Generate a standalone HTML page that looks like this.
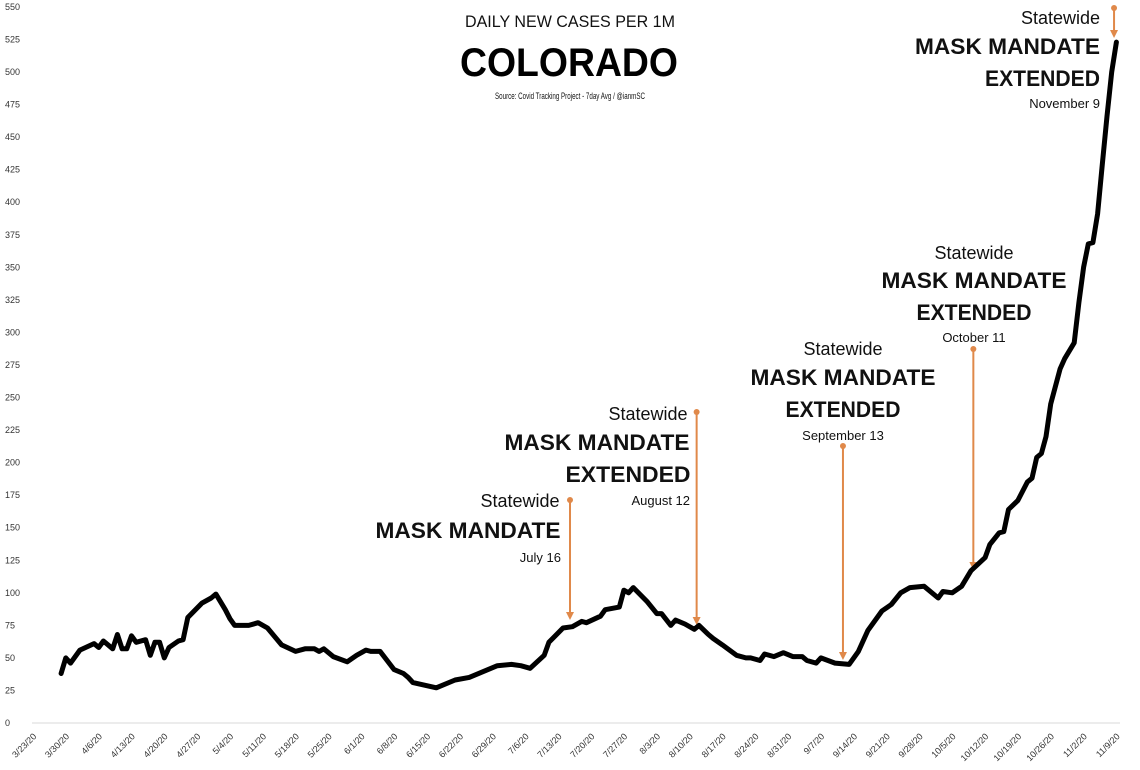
<!DOCTYPE html>
<html><head><meta charset="utf-8"><style>
html,body{margin:0;padding:0;background:#fff;}
svg{display:block;font-family:"Liberation Sans",sans-serif;}
</style></head><body>
<svg id="chart" width="1140" height="770" viewBox="0 0 1140 770" xmlns="http://www.w3.org/2000/svg">
<rect x="0" y="0" width="1140" height="770" fill="#fff"/>
<g>
<text x="570" y="27" text-anchor="middle" font-size="17" fill="#111" textLength="210" lengthAdjust="spacingAndGlyphs">DAILY NEW CASES PER 1M</text>
<text x="569" y="76" text-anchor="middle" font-size="40" font-weight="bold" fill="#000" textLength="218" lengthAdjust="spacingAndGlyphs">COLORADO</text>
<text x="570" y="99" text-anchor="middle" font-size="9" fill="#111" textLength="150" lengthAdjust="spacingAndGlyphs">Source: Covid Tracking Project - 7day Avg / @ianmSC</text>
</g>
<g id="axes"></g>
<g id="annots"></g>
<path id="line" fill="none" stroke="#000" stroke-width="5" stroke-linejoin="round" stroke-linecap="round"/>
</svg>
<script>
const dayIdx = [6,7,8,10,13,14,15,17,18,19,20,21,22,24,25,26,27,28,29,31,32,33,36,38,39,41,42,43,46,48,50,53,56,58,60,61,62,64,67,69,70,71,72,74,77,79,80,
81,86,90,93,99,102,104,106,109,110,113,115,117,118,121,122,125,126,127,128,131,133,134,136,137,139,141,142,144,145,147,150,152,153,155,156,158,160,162,164,165,167,168,171,174,
176,178,181,183,185,187,190,193,194,196,198,200,203,204,206,207,208,210,212,213,214,215,216,217,219,220,222,223,224,225,226,227,228,229,230,231];
const cases = [38,50,46,56,61,58,63,57,68,57,57,67,62,64,52,62,62,50,58,63,64,81,92,96,99,87,80,75,75,77,73,60,55,57,57,55,57,51,47,52,54,56,55,55,41,38,35,
31,27,33,35,44,45,44,42,52,62,73,74,78,77,82,87,89,102,100,104,93,84,84,75,79,76,72,75,68,65,60,52,50,50,48,53,51,54,51,51,48,46,50,46,45,
55,71,86,91,100,104,105,96,101,100,105,117,127,137,146,147,164,171,185,188,204,207,220,245,272,280,292,323,350,368,369,391,429,466,500,523];
const yTicks = [0,25,50,75,100,125,150,175,200,225,250,275,300,325,350,375,400,425,450,475,500,525,550];
const xLabels = ["3/23/20","3/30/20","4/6/20","4/13/20","4/20/20","4/27/20","5/4/20","5/11/20","5/18/20","5/25/20","6/1/20","6/8/20","6/15/20","6/22/20","6/29/20","7/6/20","7/13/20","7/20/20","7/27/20","8/3/20","8/10/20","8/17/20","8/24/20","8/31/20","9/7/20","9/14/20","9/21/20","9/28/20","10/5/20","10/12/20","10/19/20","10/26/20","11/2/20","11/9/20"];
const annDays = [114.5,141.5,172.7,200.5,230.5];

const NS="http://www.w3.org/2000/svg";
const X0=33, DX=4.69, Y0=723, KY=1.302;
function xs(d){return X0+DX*d;}
function ys(v){return Y0-KY*v;}
function mk(tag,attrs,parent,txt){const e=document.createElementNS(NS,tag);for(const k in attrs)e.setAttribute(k,attrs[k]);if(txt!==undefined)e.textContent=txt;parent.appendChild(e);return e;}

const axes=document.getElementById('axes');
const al=mk('line',{x1:32,y1:Y0,x2:1120,y2:Y0,stroke:'#d9d9d9','stroke-width':1},axes);


yTicks.forEach(v=>{
  const t=mk('text',{x:5,y:ys(v)+3,'font-size':9,fill:'#333'},axes,String(v));
  
  
});
xLabels.forEach((s,i)=>{
  const x=X0+DX*7*i+4, y=737;
  const t=mk('text',{x:x,y:y,'font-size':9,fill:'#333','text-anchor':'end',transform:`rotate(-45 ${x} ${y})`},axes,s);
  
  
});

let d='';
dayIdx.forEach((k,i)=>{d+=(i?'L':'M')+xs(k).toFixed(1)+','+ys(cases[i]).toFixed(1);});
document.getElementById('line').setAttribute('d',d);

const OR='#e0894a';
const an=document.getElementById('annots');
const anns=[
 {top:500,bot:620,lines:[["Statewide",520,507,18,false,'middle',0],["MASK MANDATE",468,538,22,true,'middle',185],["July 16",561,562,13,false,'end',0]]},
 {top:412,bot:625,lines:[["Statewide",648,420,18,false,'middle',0],["MASK MANDATE",597,450,22,true,'middle',185],["EXTENDED",628,482,22,true,'middle',125],["August 12",690,505,13,false,'end',0]]},
 {top:446,bot:660,lines:[["Statewide",843,355,18,false,'middle',0],["MASK MANDATE",843,385,22,true,'middle',185],["EXTENDED",843,417,22,true,'middle',115],["September 13",843,440,13,false,'middle',0]]},
 {top:349,bot:570,lines:[["Statewide",974,259,18,false,'middle',0],["MASK MANDATE",974,288,22,true,'middle',185],["EXTENDED",974,320,22,true,'middle',115],["October 11",974,342,13,false,'middle',0]]},
 {top:8,bot:38,lines:[["Statewide",1100,24,18,false,'end',0],["MASK MANDATE",1100,54,22,true,'end',185],["EXTENDED",1100,86,22,true,'end',115],["November 9",1100,108,13,false,'end',0]]}
];
anns.forEach((a,i)=>{
  const x=xs(annDays[i]);
  const g=mk('g',{},an);
  
  
  const l=mk('line',{x1:x,y1:a.top,x2:x,y2:a.bot-6,stroke:OR,'stroke-width':2},g);
  
  
  mk('circle',{cx:x,cy:a.top,r:3,fill:OR},g);
  mk('path',{d:`M${x-4},${a.bot-8}L${x+4},${a.bot-8}L${x},${a.bot}Z`,fill:OR},g);
  a.lines.forEach(L=>{
    const at={x:L[1],y:L[2],'font-size':L[3],'text-anchor':L[5],fill:'#111'};
    if(L[4])at['font-weight']='bold';
    if(L[6]){at.textLength=L[6];at.lengthAdjust='spacingAndGlyphs';}
    const t=mk('text',at,g,L[0]);
    
    
  });
});
</script>
</body></html>
